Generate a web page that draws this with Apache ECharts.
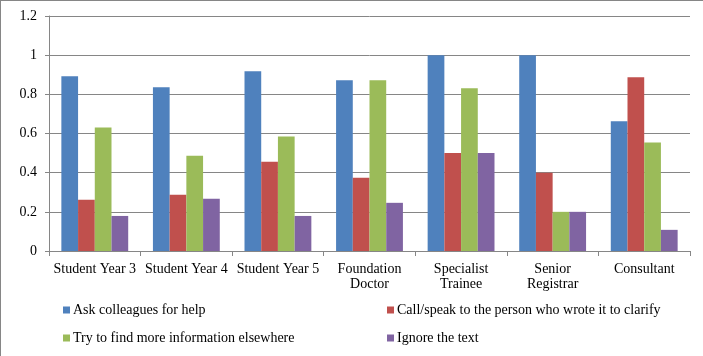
<!DOCTYPE html>
<html>
<head>
<meta charset="utf-8">
<script src="https://cdn.jsdelivr.net/npm/echarts@6/dist/echarts.min.js"></script>
<style>
html,body{margin:0;padding:0;background:#fff;}
#c{width:703px;height:356px;box-sizing:border-box;border-top:1px solid #868686;border-left:1px solid #868686;}
</style>
</head>
<body>
<div id="c"></div>
<script>
const categories = ["Student Year 3", "Student Year 4", "Student Year 5", "Foundation\nDoctor", "Specialist\nTrainee", "Senior\nRegistrar", "Consultant"];
const seriesNames = ["Ask colleagues for help", "Call/speak to the person who wrote it to clarify", "Try to find more information elsewhere", "Ignore the text"];
const askColleagues = [0.892, 0.836, 0.918, 0.872, 1.0, 1.0, 0.662];
const callSpeak = [0.262, 0.287, 0.456, 0.374, 0.5, 0.4, 0.887];
const findMore = [0.631, 0.487, 0.585, 0.872, 0.831, 0.2, 0.554];
const ignoreText = [0.179, 0.267, 0.179, 0.246, 0.5, 0.2, 0.108];
const yTicks = {min: 0, max: 1.2, interval: 0.2};
const colors = ["#4F81BD", "#C0504D", "#9BBB59", "#8064A2"];

const font = "'Liberation Serif', serif";
const chart = echarts.init(document.getElementById('c'));
const values = [askColleagues, callSpeak, findMore, ignoreText];
const legendCommon = {
  orient: 'vertical', icon: 'rect', itemWidth: 7, itemHeight: 7, itemGap: 14,
  textStyle: {fontFamily: font, fontSize: 14, color: '#000', lineHeight: 14, padding: [0,0,0,-2]},
  selectedMode: false, padding: 0
};
chart.setOption({
  animation: false,
  color: colors,
  grid: {left: 48, right: 13, top: 15, bottom: 105, containLabel: false},
  legend: [
    Object.assign({left: 62, top: 302, data: [seriesNames[0], seriesNames[2]]}, legendCommon),
    Object.assign({left: 386, top: 302, data: [seriesNames[1], seriesNames[3]]}, legendCommon)
  ],
  xAxis: {
    type: 'category', data: categories,
    axisLine: {lineStyle: {color: '#868686', width: 1}},
    axisTick: {show: true, length: 5, lineStyle: {color: '#868686'}},
    axisLabel: {fontFamily: font, fontSize: 14, color: '#000', lineHeight: 15, margin: 11, interval: 0}
  },
  yAxis: {
    type: 'value', min: yTicks.min, max: yTicks.max, interval: yTicks.interval,
    axisLine: {show: true, lineStyle: {color: '#868686'}},
    axisTick: {show: true, length: 4, lineStyle: {color: '#868686'}},
    splitLine: {lineStyle: {color: '#868686', width: 1}},
    axisLabel: {fontFamily: font, fontSize: 14, color: '#000', margin: 12,
      formatter: v => String(Math.round(v * 10) / 10)}
  },
  series: seriesNames.map((n, i) => ({
    name: n, type: 'bar', data: values[i],
    barGap: '0%', barCategoryGap: '27%'
  }))
});
</script>
</body>
</html>
